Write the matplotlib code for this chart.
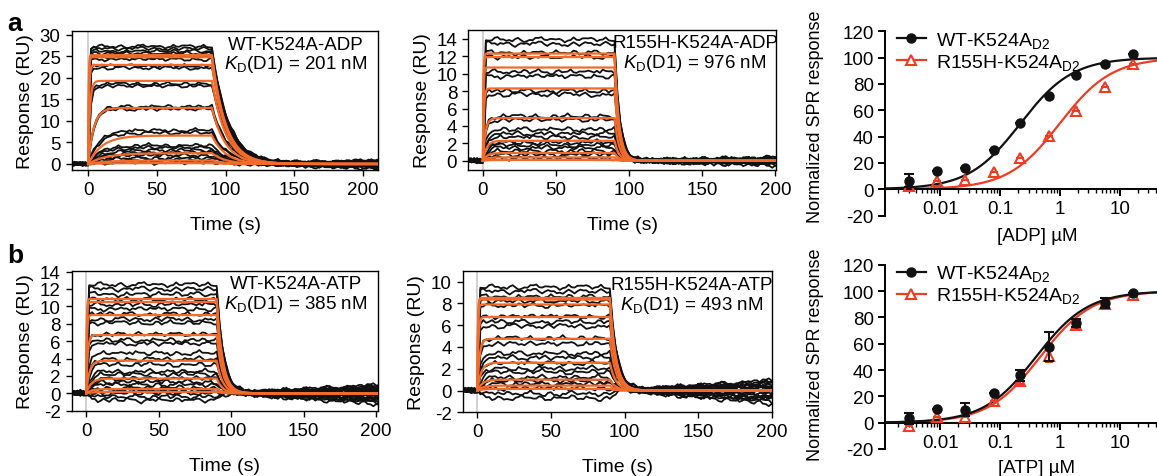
import matplotlib
matplotlib.use("Agg")
import matplotlib.pyplot as plt
from matplotlib.lines import Line2D
import numpy as np

plt.rcParams['font.family'] = ['Liberation Sans', 'DejaVu Sans']
plt.rcParams['mathtext.fontset'] = 'custom'
plt.rcParams['mathtext.rm'] = 'Liberation Sans'
plt.rcParams['mathtext.it'] = 'Liberation Sans:italic'
plt.rcParams['mathtext.bf'] = 'Liberation Sans:bold'
plt.rcParams['axes.unicode_minus'] = False

# ---------------- sensorgram data ----------------
# plateau levels (RU) and observed rates (1/s) of the fitted 1:1 curves
a1_fit_req = [25.3, 24.8, 23.0, 19.3, 13.0, 6.6, 2.5, 0.8, 0.2]
a1_fit_kobs = [3.0, 2.5, 1.6, 0.8, 0.25, 0.1, 0.08, 0.08, 0.08]
a1_koff = 0.1
a1_raw_req = [27.3, 26.8, 26.2, 25.7, 24.8, 24.3, 22.8, 22.3, 18.6, 18.1, 13.3,
              12.7, 7.8, 7.2, 4.3, 3.8, 3.2, 2.6, 2.0, 1.4, 0.8, 0.3]
a1_raw_kobs = [2, 2, 2, 2, 2, 2, 1.5, 1.5, 0.7, 0.7, 0.25, 0.25, 0.13, 0.13,
               0.11, 0.11, 0.1, 0.1, 0.1, 0.1, 0.1, 0.1]

a2_fit_req = [12.3, 11.9, 10.7, 8.3, 4.9, 2.3, 0.9, 0.4, 0.1]
a2_fit_kobs = [3.0, 3.0, 2.5, 1.5, 0.6, 0.4, 0.35, 0.33, 0.33]
a2_koff = 0.33
a2_raw_req = [13.9, 13.4, 12.4, 11.9, 10.2, 9.7, 8.0, 7.6, 5.1, 4.7, 3.6, 3.1,
              2.7, 2.1, 1.8, 1.5, 1.1, 0.7, 0.3]
a2_raw_kobs = [3, 3, 3, 3, 2.5, 2.5, 1.5, 1.5, 0.6, 0.6, 0.45, 0.45, 0.4, 0.4,
               0.4, 0.35, 0.35, 0.35, 0.35]

b1_fit_req = [10.85, 10.5, 9.0, 6.7, 3.75, 1.7, 0.5, 0.15]
b1_fit_kobs = [3.0, 2.5, 2.0, 1.0, 0.45, 0.3, 0.26, 0.25]
b1_koff = 0.25
b1_raw_req = [12.5, 12.0, 11.4, 10.8, 10.2, 9.7, 9.1, 8.5, 8.1, 6.8, 6.1, 5.7,
              4.6, 3.9, 3.3, 2.5, 2.2, 1.7, 1.3, 1.0, 0.6, 0.3, 0.0, -0.4, -0.8]
b1_raw_kobs = [3, 3, 3, 3, 2.5, 2.5, 2, 2, 2, 1, 1, 1, 0.5, 0.45, 0.45, 0.35,
               0.3, 0.3, 0.3, 0.3, 0.3, 0.3, 0.3, 0.3, 0.3]

b2_fit_req = [8.5, 8.35, 7.9, 6.75, 4.75, 2.55, 1.0, 0.45, 0.15]
b2_fit_kobs = [3.0, 3.0, 2.5, 1.5, 0.7, 0.4, 0.3, 0.27, 0.25]
b2_koff = 0.25
b2_raw_req = [9.5, 9.1, 8.6, 8.2, 7.8, 6.8, 6.3, 5.9, 4.8, 4.3, 3.4, 3.0, 2.5,
              2.0, 1.7, 1.2, 0.9, 0.6, 0.2, -0.3, -0.7]
b2_raw_kobs = [3, 3, 3, 3, 2.5, 1.5, 1.5, 1.5, 0.7, 0.7, 0.5, 0.5, 0.4, 0.4,
               0.35, 0.3, 0.3, 0.3, 0.3, 0.3, 0.3]

# hand-typed wobble pattern for the raw traces, and per-trace baseline drift
wobble = [0.1, 0.3, -0.2, 0.4, 0.6, 0.2, -0.1, -0.5, -0.3, 0.1, 0.5, 0.7, 0.4,
          0.0, -0.3, -0.6, -0.4, 0.2, 0.3, -0.1, -0.5, -0.8, -0.4, 0.1, 0.6,
          0.8, 0.5, 0.2, -0.2, -0.1, 0.3, 0.5, 0.1, -0.4, -0.7, -0.5, 0.0, 0.4,
          0.2, -0.2, 0.1, 0.6, 0.9, 0.5, 0.0, -0.3, -0.2, 0.2, 0.4, 0.0, -0.5,
          -0.9, -0.6, -0.1, 0.3, 0.1, -0.3, -0.1, 0.4, 0.7, 0.3, -0.2, -0.6,
          -0.3, 0.2, 0.5, 0.3, -0.1, -0.4, -0.2, 0.3, 0.6, 0.2, -0.3, -0.5,
          -0.2, 0.1, 0.4, 0.8, 0.4, -0.1, -0.4, -0.7, -0.3, 0.2, 0.0, -0.2,
          0.3, 0.6, 0.2, -0.3, -0.1, 0.5, 0.7, 0.3, -0.2, -0.5, -0.8, -0.4,
          0.1, 0.4, 0.2, -0.1, 0.3, 0.5, 0.1, -0.4, -0.2, 0.2, 0.6, 0.3, -0.1]
jitter = [0.3, -0.4, 0.1, -0.2, 0.5, -0.3, 0.0, 0.4, -0.1, -0.5, 0.2]
drift = [0.4, -0.6, 0.9, -1.1, 0.2, -0.3, 0.7, -0.8, 0.1, 0.5, -1.3, 0.3, -0.5,
         0.8, -0.2, 0.6, -0.9, 0.0, 0.4, -0.7, 1.0, -0.4, 0.2, -1.0, 0.5]

# ---------------- dose-response data ----------------
conc = [0.003, 0.0088, 0.026, 0.078, 0.215, 0.66, 1.85, 5.6, 16.5]
adp_wt = [6.4, 13.7, 16.0, 29.8, 50.0, 70.7, 87.0, 95.4, 103.0]
adp_wt_err = [5, 0, 0, 0, 0, 0, 0, 0, 0]
adp_mut = [2.5, 6.4, 6.9, 13.2, 23.4, 40.2, 59.8, 77.6, 95.4]
atp_wt = [3.3, 10.4, 9.7, 22.4, 35.9, 57.5, 75.8, 91.0, 98.2]
atp_wt_err = [4, 0, 5, 0, 4, 11, 3, 4, 0]
atp_mut = [-2.5, 4.0, 4.0, 16.5, 31.3, 51.0, 74.0, 90.0, 97.0]
atp_mut_err = [0, 0, 0, 0, 2, 5, 2, 2, 0]
adp_ec50 = [0.22, 1.0]
atp_ec50 = [0.40, 0.47]

BLACK = '#111111'
ORANGE = '#f26b2a'
RED = '#ee3b24'

W, H = 1157, 477
fig = plt.figure(figsize=(W / 100, H / 100), dpi=100)


def box(l, t, r, b):
    return [l / W, 1 - b / H, (r - l) / W, (b - t) / H]


def sensorgram(t, req, kobs, koff, t_end=90.0):
    tc = np.clip(t, 0, None)
    r = req * (1 - np.exp(-kobs * tc))
    r_end = req * (1 - np.exp(-kobs * t_end))
    r = np.where(t > t_end, r_end * np.exp(-koff * (t - t_end)), r)
    return np.where(t < 0, 0.0, r)


def spr_panel(rect, fit_req, fit_kobs, koff, raw_req, raw_kobs, noise, dscale,
              xlim, ylim, yticks, name, kd, txt_xy):
    ax = fig.add_axes(box(*rect))
    ax.axvline(0, color='#c8c8c8', lw=1.2, zorder=1)
    t = np.arange(-12, 212, 2.0)
    idx = np.arange(len(t))
    n = len(wobble)
    nj = len(jitter)
    for k, (req, kob) in enumerate(zip(raw_req, raw_kobs)):
        w = np.array([wobble[(i + 17 * k) % n] for i in idx])
        j = np.array([jitter[(i + 3 * k) % nj] for i in idx])
        y = sensorgram(t, req, kob, koff * 0.85)
        y = y + noise * (w + 0.9 * j)
        y = y + dscale * drift[k % len(drift)] * np.clip(t - 95, 0, None) / 115
        ax.plot(t, y, color=BLACK, lw=1.3, zorder=2)
    tf = np.linspace(0, xlim[1], 3000)
    for req, kob in zip(fit_req, fit_kobs):
        ax.plot(tf, sensorgram(tf, req, kob, koff), color=ORANGE, lw=1.6,
                zorder=3)
    ax.set_xlim(*xlim)
    ax.set_ylim(*ylim)
    ax.set_yticks(yticks)
    ax.set_xticks([0, 50, 100, 150, 200])
    ax.tick_params(direction='out', length=4, width=1, labelsize=13.5, pad=4)
    for s in ax.spines.values():
        s.set_linewidth(1.0)
    ax.set_xlabel('Time (s)', fontsize=14, labelpad=13)
    ax.set_ylabel('Response (RU)', fontsize=14, labelpad=4)
    fig.text(txt_xy[0] / W, 1 - txt_xy[1] / H, name, ha='center',
             va='center', fontsize=13.5)
    fig.text(txt_xy[0] / W, 1 - (txt_xy[1] + 19.5) / H,
             r'$K_\mathrm{D}$(D1) = ' + kd, ha='center', va='center',
             fontsize=13.5)
    return ax


ax_a1 = spr_panel((71.7, 31.5, 378.3, 171), a1_fit_req, a1_fit_kobs, a1_koff,
                  a1_raw_req, a1_raw_kobs, 0.45, 0.8, (-12, 211), (-1.4, 31),
                  [0, 5, 10, 15, 20, 25, 30], 'WT-K524A-ADP', '201 nM',
                  (296, 45))
ax_a2 = spr_panel((468.3, 31, 776, 171), a2_fit_req, a2_fit_kobs, a2_koff,
                  a2_raw_req, a2_raw_kobs, 0.3, 0.4, (-10, 200.5), (-1.05, 15),
                  [0, 2, 4, 6, 8, 10, 12, 14], 'R155H-K524A-ADP', '976 nM',
                  (695, 44))
ax_b1 = spr_panel((71.7, 271.7, 377.7, 411.7), b1_fit_req, b1_fit_kobs,
                  b1_koff, b1_raw_req, b1_raw_kobs, 0.3, 1.0, (-10, 201),
                  (-2, 14.1), [-2, 0, 2, 4, 6, 8, 10, 12, 14],
                  'WT-K524A-ATP', '385 nM', (296, 285))
ax_b2 = spr_panel((462.7, 271.7, 771.7, 413.3), b2_fit_req, b2_fit_kobs,
                  b2_koff, b2_raw_req, b2_raw_kobs, 0.25, 1.0, (-10, 200),
                  (-2, 11), [-2, 0, 2, 4, 6, 8, 10], 'R155H-K524A-ATP',
                  '493 nM', (692, 286))


def hill(x, ec50, top=100.0, h=1.0):
    return top / (1 + (ec50 / x) ** h)


def dose_panel(rect, wt, wt_err, mut, mut_err, ec50s, xlabel, xlab_y, ylab_y):
    ax = fig.add_axes(box(*rect))
    xf = np.logspace(-3, 1.7, 400)
    ax.plot(xf, hill(xf, ec50s[0]), color=BLACK, lw=1.6, zorder=3)
    ax.plot(xf, hill(xf, ec50s[1]), color=RED, lw=1.6, zorder=2)
    ax.errorbar(conc, mut, yerr=mut_err, fmt='^', ms=7, mfc='none', mec=RED,
                mew=1.5, ecolor=RED, elinewidth=1.3, capsize=3, zorder=4)
    ax.errorbar(conc, wt, yerr=wt_err, fmt='o', ms=6.5, color=BLACK,
                ecolor=BLACK, elinewidth=1.5, capsize=3.5, capthick=1.5,
                zorder=5)
    ax.set_xscale('log')
    ax.set_xlim(0.0012, 42)
    ax.set_ylim(-20, 120)
    ax.set_yticks(range(-20, 121, 20))
    ax.set_xticks([0.01, 0.1, 1, 10])
    ax.set_xticklabels(['0.01', '0.1', '1', '10'])
    ax.spines['top'].set_visible(False)
    ax.spines['right'].set_visible(False)
    ax.spines['bottom'].set_position(('data', 0))
    ax.spines['left'].set_linewidth(1.4)
    ax.spines['bottom'].set_linewidth(1.4)
    ax.tick_params(which='major', direction='out', length=5, width=1.4,
                   labelsize=13.5, pad=3)
    ax.tick_params(which='minor', direction='out', length=3, width=1.0)
    fig.text(1037 / W, 1 - xlab_y / H, xlabel, ha='center', va='center',
             fontsize=13.5)
    fig.text(815 / W, 1 - ylab_y / H, 'Normalized SPR response', ha='center',
             va='center', rotation=90, fontsize=13)
    handles = [
        Line2D([], [], color=BLACK, lw=1.6, marker='o', ms=6.5),
        Line2D([], [], color=RED, lw=1.6, marker='^', ms=7, mfc='white',
               mew=1.5),
    ]
    ax.legend(handles, [r'WT-K524A$_\mathrm{D2}$',
                        r'R155H-K524A$_\mathrm{D2}$'],
              loc='upper left', bbox_to_anchor=(0.0, 1.07), frameon=False,
              fontsize=14, handlelength=1.5, handletextpad=0.5,
              labelspacing=0.1, borderaxespad=0.2)
    return ax


dose_panel((885, 32.3, 1157, 216.5), adp_wt, adp_wt_err, adp_mut,
           [0] * 9, adp_ec50, '[ADP] µM', 237, 117)
dose_panel((885, 265.7, 1157, 450), atp_wt, atp_wt_err, atp_mut,
           atp_mut_err, atp_ec50, '[ATP] µM', 469, 355)

fig.text(15 / W, 1 - 24 / H, 'a', fontsize=19, fontweight='bold',
         ha='center', va='center')
fig.text(15 / W, 1 - 256 / H, 'b', fontsize=19, fontweight='bold',
         ha='center', va='center')

fig.savefig('out.png', dpi=100)
